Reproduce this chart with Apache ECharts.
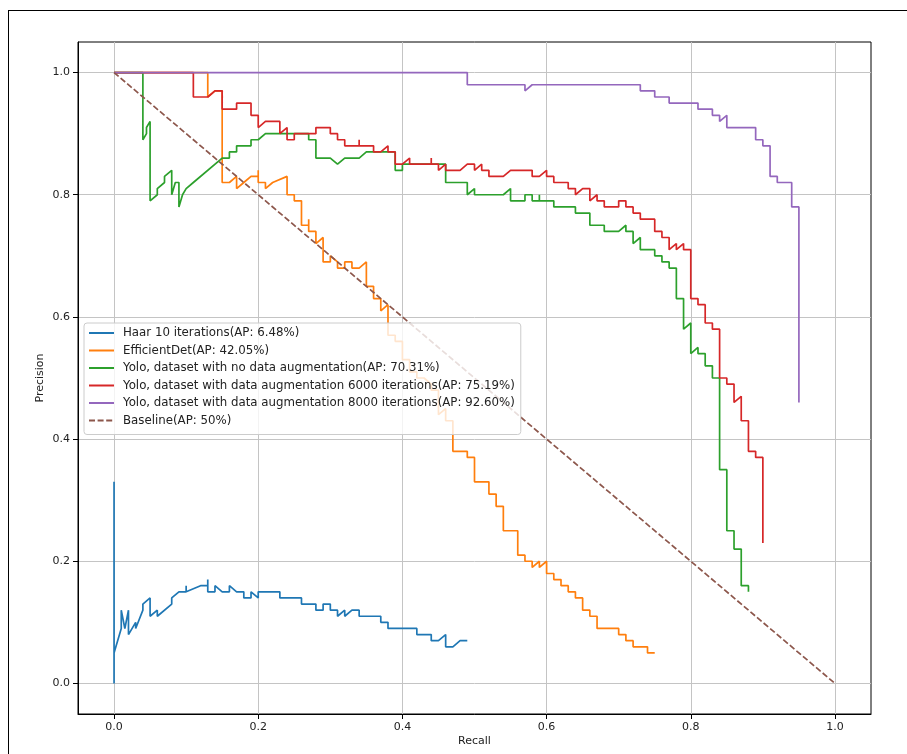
<!DOCTYPE html>
<html>
<head>
<meta charset="utf-8">
<script src="https://cdn.jsdelivr.net/npm/echarts@6/dist/echarts.min.js"></script>
<style>
  html, body { margin: 0; padding: 0; background: #fff; }
  #wrap { position: relative; width: 907px; height: 754px; overflow: hidden; }
  /* figure frame, only top and left edges are visible in the shot */
  #frame { position: absolute; left: 8px; top: 10px; width: 1200px; height: 1200px;
           border-left: 1.5px solid #000; border-top: 1.5px solid #000; }
  #mychart { position: absolute; left: 0; top: 0; width: 907px; height: 754px; }
</style>
</head>
<body>
<div id="wrap">
  <div id="frame"></div>
  <div id="mychart"></div>
</div>
<script>
// tick values
const xTicks = [0, 0.2, 0.4, 0.6, 0.8, 1.0]
const yTicks = [0, 0.2, 0.4, 0.6, 0.8, 1.0]

// legend names
const names = [
  'Haar 10 iterations(AP: 6.48%)',
  'EfficientDet(AP: 42.05%)',
  'Yolo, dataset with no data augmentation(AP: 70.31%)',
  'Yolo, dataset with data augmentation 6000 iterations(AP: 75.19%)',
  'Yolo, dataset with data augmentation 8000 iterations(AP: 92.60%)',
  'Baseline(AP: 50%)'
]

// [recall, precision]
const haarPts = [
  [0, 0], [0, 0.33], [0, 0.05], [0.01, 0.09], [0.01, 0.12], [0.015, 0.09], [0.02, 0.12], [0.02, 0.08],
  [0.03, 0.10], [0.03, 0.09], [0.04, 0.12], [0.04, 0.13], [0.05, 0.14], [0.05, 0.11], [0.06, 0.12],
  [0.06, 0.11], [0.08, 0.13], [0.08, 0.14], [0.09, 0.15], [0.10, 0.15], [0.10, 0.16], [0.10, 0.15],
  [0.12, 0.16], [0.13, 0.16], [0.13, 0.17], [0.13, 0.15], [0.14, 0.15], [0.14, 0.16], [0.15, 0.15],
  [0.16, 0.15], [0.16, 0.16], [0.17, 0.15], [0.18, 0.15], [0.18, 0.14], [0.19, 0.14], [0.19, 0.15],
  [0.20, 0.14], [0.20, 0.15], [0.23, 0.15], [0.23, 0.14], [0.26, 0.14], [0.26, 0.13], [0.28, 0.13],
  [0.28, 0.12], [0.29, 0.12], [0.29, 0.13], [0.30, 0.13], [0.30, 0.12], [0.31, 0.12], [0.31, 0.11],
  [0.32, 0.12], [0.32, 0.11], [0.33, 0.12], [0.34, 0.12], [0.34, 0.11], [0.37, 0.11], [0.37, 0.10],
  [0.38, 0.10], [0.38, 0.09], [0.42, 0.09], [0.42, 0.08], [0.44, 0.08], [0.44, 0.07], [0.45, 0.07],
  [0.46, 0.08], [0.46, 0.06], [0.47, 0.06], [0.48, 0.07], [0.49, 0.07]
]

const effDetPts = [
  [0, 1], [0.13, 1], [0.13, 0.96], [0.14, 0.97], [0.15, 0.97], [0.15, 0.82], [0.16, 0.82], [0.17, 0.83],
  [0.17, 0.81], [0.18, 0.82], [0.19, 0.83], [0.20, 0.83], [0.20, 0.84], [0.20, 0.82], [0.21, 0.82],
  [0.21, 0.81], [0.22, 0.82], [0.24, 0.83], [0.24, 0.80], [0.25, 0.80], [0.25, 0.79], [0.26, 0.79],
  [0.26, 0.75], [0.27, 0.75], [0.27, 0.76], [0.27, 0.74], [0.28, 0.74], [0.28, 0.72], [0.29, 0.73],
  [0.29, 0.69], [0.30, 0.69], [0.30, 0.70], [0.31, 0.69], [0.31, 0.68], [0.32, 0.68], [0.32, 0.69],
  [0.33, 0.69], [0.33, 0.68], [0.34, 0.68], [0.35, 0.69], [0.35, 0.65], [0.36, 0.65], [0.36, 0.63],
  [0.37, 0.63], [0.37, 0.61], [0.38, 0.62], [0.38, 0.57], [0.39, 0.57], [0.39, 0.56], [0.40, 0.56],
  [0.40, 0.53], [0.41, 0.53], [0.41, 0.51], [0.42, 0.51], [0.42, 0.50], [0.43, 0.50], [0.44, 0.49],
  [0.44, 0.48], [0.45, 0.48], [0.45, 0.44], [0.46, 0.45], [0.46, 0.43], [0.47, 0.43], [0.47, 0.38],
  [0.49, 0.38], [0.49, 0.37], [0.50, 0.37], [0.50, 0.33], [0.52, 0.33], [0.52, 0.31], [0.53, 0.31],
  [0.53, 0.29], [0.54, 0.29], [0.54, 0.25], [0.56, 0.25], [0.56, 0.21], [0.57, 0.21], [0.57, 0.20],
  [0.58, 0.20], [0.58, 0.19], [0.59, 0.20], [0.59, 0.19], [0.60, 0.20], [0.60, 0.18], [0.61, 0.18],
  [0.61, 0.17], [0.62, 0.17], [0.62, 0.16], [0.63, 0.16], [0.63, 0.15], [0.64, 0.15], [0.64, 0.14],
  [0.65, 0.14], [0.65, 0.12], [0.66, 0.12], [0.66, 0.11], [0.67, 0.11], [0.67, 0.09], [0.70, 0.09],
  [0.70, 0.08], [0.71, 0.08], [0.71, 0.07], [0.72, 0.07], [0.72, 0.06], [0.74, 0.06], [0.74, 0.05],
  [0.75, 0.05]
]

const yoloNoAugPts = [
  [0, 1], [0.04, 1], [0.04, 0.89], [0.045, 0.90], [0.045, 0.91], [0.05, 0.92], [0.05, 0.79], [0.06, 0.80],
  [0.06, 0.81], [0.07, 0.82], [0.07, 0.83], [0.08, 0.84], [0.08, 0.80], [0.085, 0.82], [0.09, 0.82],
  [0.09, 0.78], [0.095, 0.80], [0.10, 0.81], [0.11, 0.82], [0.15, 0.86], [0.16, 0.86], [0.16, 0.87],
  [0.17, 0.87], [0.17, 0.88], [0.19, 0.88], [0.19, 0.89], [0.20, 0.89], [0.21, 0.90], [0.27, 0.90],
  [0.27, 0.89], [0.28, 0.89], [0.28, 0.86], [0.30, 0.86], [0.31, 0.85], [0.32, 0.86], [0.34, 0.86],
  [0.35, 0.87], [0.39, 0.87], [0.39, 0.84], [0.40, 0.84], [0.40, 0.85], [0.46, 0.85], [0.46, 0.82],
  [0.49, 0.82], [0.49, 0.80], [0.50, 0.81], [0.50, 0.80], [0.54, 0.80], [0.55, 0.81], [0.55, 0.79],
  [0.57, 0.79], [0.57, 0.80], [0.58, 0.80], [0.58, 0.79], [0.59, 0.79], [0.59, 0.80], [0.59, 0.79],
  [0.61, 0.79], [0.61, 0.78], [0.64, 0.78], [0.64, 0.77], [0.66, 0.77], [0.66, 0.75], [0.68, 0.75],
  [0.68, 0.74], [0.70, 0.74], [0.71, 0.75], [0.71, 0.74], [0.72, 0.74], [0.72, 0.72], [0.73, 0.73],
  [0.73, 0.71], [0.75, 0.71], [0.75, 0.70], [0.76, 0.70], [0.76, 0.69], [0.77, 0.69], [0.77, 0.68],
  [0.78, 0.68], [0.78, 0.63], [0.79, 0.63], [0.79, 0.58], [0.80, 0.59], [0.80, 0.54], [0.81, 0.55],
  [0.81, 0.54], [0.82, 0.54], [0.82, 0.52], [0.83, 0.52], [0.83, 0.50], [0.84, 0.50], [0.84, 0.35],
  [0.85, 0.35], [0.85, 0.25], [0.86, 0.25], [0.86, 0.22], [0.87, 0.22], [0.87, 0.16], [0.88, 0.16],
  [0.88, 0.15]
]

const yolo6000Pts = [
  [0, 1], [0.11, 1], [0.11, 0.96], [0.13, 0.96], [0.14, 0.97], [0.15, 0.97], [0.15, 0.94], [0.17, 0.94],
  [0.17, 0.95], [0.19, 0.95], [0.19, 0.93], [0.20, 0.93], [0.20, 0.91], [0.21, 0.92], [0.23, 0.92],
  [0.23, 0.90], [0.24, 0.91], [0.24, 0.89], [0.25, 0.89], [0.25, 0.90], [0.28, 0.90], [0.28, 0.91],
  [0.30, 0.91], [0.30, 0.90], [0.31, 0.90], [0.31, 0.89], [0.32, 0.89], [0.32, 0.88], [0.34, 0.88],
  [0.34, 0.89], [0.34, 0.88], [0.36, 0.88], [0.36, 0.87], [0.37, 0.87], [0.38, 0.88], [0.38, 0.87],
  [0.39, 0.87], [0.39, 0.85], [0.40, 0.85], [0.41, 0.86], [0.41, 0.85], [0.44, 0.85], [0.44, 0.86],
  [0.44, 0.85], [0.45, 0.85], [0.45, 0.84], [0.46, 0.85], [0.46, 0.84], [0.48, 0.84], [0.49, 0.85],
  [0.50, 0.85], [0.50, 0.84], [0.51, 0.85], [0.51, 0.84], [0.52, 0.84], [0.52, 0.83], [0.54, 0.83],
  [0.55, 0.84], [0.58, 0.84], [0.58, 0.83], [0.59, 0.83], [0.60, 0.84], [0.60, 0.83], [0.61, 0.83],
  [0.61, 0.82], [0.63, 0.82], [0.63, 0.81], [0.64, 0.81], [0.64, 0.80], [0.65, 0.81], [0.66, 0.81],
  [0.66, 0.79], [0.67, 0.80], [0.67, 0.79], [0.68, 0.79], [0.68, 0.78], [0.70, 0.78], [0.70, 0.79],
  [0.71, 0.79], [0.71, 0.78], [0.72, 0.78], [0.72, 0.77], [0.73, 0.77], [0.73, 0.76], [0.75, 0.76],
  [0.75, 0.74], [0.76, 0.74], [0.76, 0.73], [0.77, 0.73], [0.77, 0.71], [0.78, 0.72], [0.78, 0.71],
  [0.79, 0.72], [0.79, 0.71], [0.80, 0.71], [0.80, 0.63], [0.81, 0.63], [0.81, 0.62], [0.82, 0.62],
  [0.82, 0.59], [0.83, 0.59], [0.83, 0.58], [0.84, 0.58], [0.84, 0.50], [0.85, 0.50], [0.85, 0.49],
  [0.86, 0.49], [0.86, 0.46], [0.87, 0.47], [0.87, 0.43], [0.88, 0.43], [0.88, 0.38], [0.89, 0.38],
  [0.89, 0.37], [0.90, 0.37], [0.90, 0.23]
]

const yolo8000Pts = [
  [0, 1], [0.49, 1], [0.49, 0.98], [0.57, 0.98], [0.57, 0.97], [0.58, 0.98], [0.73, 0.98], [0.73, 0.97],
  [0.75, 0.97], [0.75, 0.96], [0.77, 0.96], [0.77, 0.95], [0.81, 0.95], [0.81, 0.94], [0.83, 0.94],
  [0.83, 0.93], [0.84, 0.93], [0.84, 0.92], [0.85, 0.93], [0.85, 0.91], [0.89, 0.91], [0.89, 0.89],
  [0.90, 0.89], [0.90, 0.88], [0.91, 0.88], [0.91, 0.83], [0.92, 0.83], [0.92, 0.82], [0.94, 0.82],
  [0.94, 0.78], [0.95, 0.78], [0.95, 0.46]
]

const baselinePts = [[0, 1], [1, 0]]

const colors = ['#1f77b4', '#ff7f0e', '#2ca02c', '#d62728', '#9467bd', '#8c564b']
const allPts = [haarPts, effDetPts, yoloNoAugPts, yolo6000Pts, yolo8000Pts, baselinePts]

const font = 'DejaVu Sans'

function initEcharts() {
  let myChart = echarts.init(document.querySelector('#mychart'))

  let series = allPts.map(function (pts, i) {
    return {
      name: names[i],
      type: 'line',
      data: pts,
      symbol: 'none',
      showSymbol: false,
      clip: true,
      color: colors[i],
      lineStyle: {
        width: 1.7,
        color: colors[i],
        type: i === 5 ? [6, 2.6] : 'solid'
      }
    }
  })

  let axisCommon = {
    type: 'value',
    min: -0.05,
    max: 1.05,
    axisLine: { show: true, onZero: false, lineStyle: { color: '#000', width: 1 } },
    axisTick: { show: true, inside: false, length: 5, lineStyle: { color: '#000' } },
    axisLabel: {
      color: '#222',
      fontFamily: font,
      fontSize: 11,
      formatter: function (v) { return v.toFixed(1) }
    },
    splitLine: { show: true, lineStyle: { color: '#c4c4c4', width: 1 } },
    nameLocation: 'middle',
    nameMoveOverlap: false,
    nameTextStyle: { color: '#222', fontFamily: font, fontSize: 11 }
  }

  myChart.setOption({
    animation: false,
    backgroundColor: 'transparent',
    grid: {
      left: 78,
      top: 42,
      width: 793,
      height: 672,
      show: true,
      borderColor: '#000',
      borderWidth: 1,
      backgroundColor: 'transparent'
    },
    legend: {
      data: names,
      orient: 'vertical',
      left: 84,
      top: 323,
      itemWidth: 25,
      itemHeight: 10,
      itemGap: 3.5,
      padding: [3, 6, 7, 4],
      backgroundColor: 'rgba(255,255,255,0.8)',
      borderColor: '#cccccc',
      borderWidth: 1,
      borderRadius: 3,
      // hide the symbol dot, keep only the line sample
      itemStyle: { opacity: 0 },
      textStyle: {
        color: '#222',
        fontFamily: font,
        fontSize: 11.8,
        lineHeight: 14,
        padding: [0, 0, 0, 4]
      },
      selectedMode: false
    },
    xAxis: Object.assign({}, axisCommon, {
      name: 'Recall',
      nameGap: 22,
      axisTick: Object.assign({}, axisCommon.axisTick, { customValues: xTicks }),
      axisLabel: Object.assign({}, axisCommon.axisLabel, { customValues: xTicks, margin: 8 })
    }),
    yAxis: Object.assign({}, axisCommon, {
      name: 'Precision',
      nameGap: 32,
      nameRotate: 90,
      axisTick: Object.assign({}, axisCommon.axisTick, { customValues: yTicks }),
      axisLabel: Object.assign({}, axisCommon.axisLabel, { customValues: yTicks, margin: 8 })
    }),
    series: series
  })
}

initEcharts()
</script>
</body>
</html>
